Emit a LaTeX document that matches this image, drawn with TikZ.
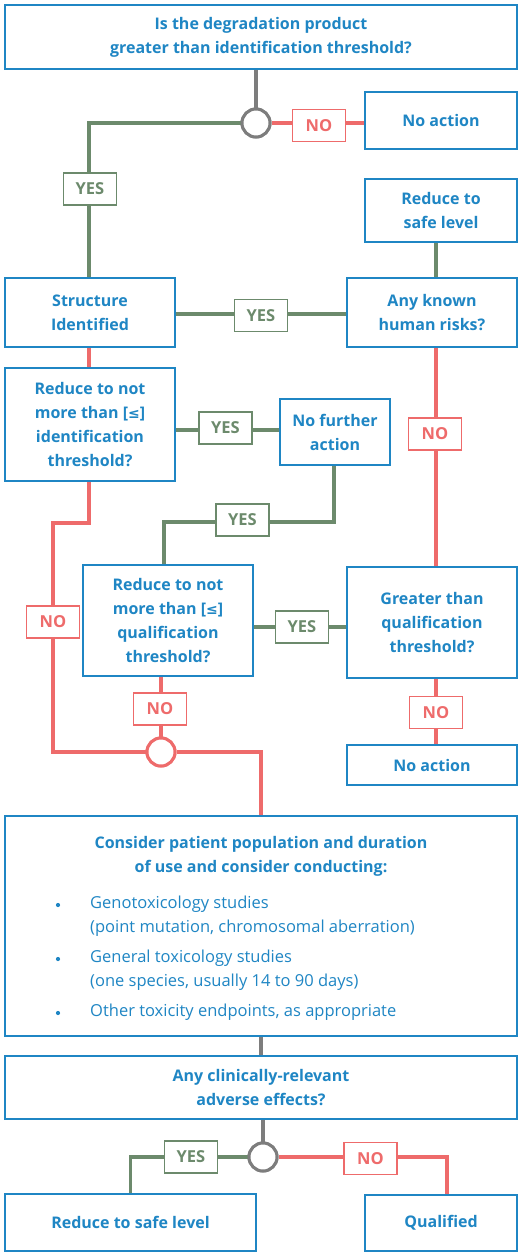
\documentclass[tikz,border=0pt]{standalone}
\usepackage{fontspec}
\setmainfont{Open Sans}
\newfontfamily\symf{DejaVu Sans}
\definecolor{cblue}{HTML}{1F86C4}
\definecolor{cgreen}{HTML}{6C8A6C}
\definecolor{cred}{HTML}{EE6B6B}
\definecolor{cgray}{HTML}{7D7D7D}
\newcommand{\leqs}{{\symf\fontsize{14}{14}\selectfont ≤}}
\begin{document}
\begin{tikzpicture}[x=1pt,y=-1pt,
  box/.style={draw=cblue, line width=2.6pt, text=cblue, align=center, inner sep=0pt,
    font=\fontsize{16}{24}\selectfont\bfseries, fill=white},
  lab/.style={draw, line width=1.4pt, fill=white, inner sep=0pt, minimum width=53pt, minimum height=32pt,
    font=\fontsize{16.5}{18}\selectfont\bfseries},
  ylab/.style={lab, draw=cgreen, text=cgreen},
  nlab/.style={lab, draw=cred, text=cred},
  junc/.style={circle, line width=3pt, fill=white, minimum size=28pt, inner sep=0pt},
  gline/.style={draw=cgreen, line width=3.2pt},
  rline/.style={draw=cred, line width=3.2pt},
  kline/.style={draw=cgray, line width=3.2pt},
  bodyt/.style={text=cblue, font=\fontsize{16.5}{24}\selectfont, align=left, inner sep=0pt},
]
\useasboundingbox (0,0) rectangle (526,1254);
\fill[white] (0,0) rectangle (526,1254);

% coordinates for connector lanes
\coordinate (xr) at (436,0);
\coordinate (xq) at (447,0);
\coordinate (xs) at (89,0);
\coordinate (xg) at (164,0);
\coordinate (xn) at (334,0);
\coordinate (yg) at (0,522);
\coordinate (yr) at (0,523);
\coordinate (xl) at (53,0);
\coordinate (y1) at (0,430);
\coordinate (y2) at (0,627);
\coordinate (y3) at (0,314);

% boxes
\node[box, minimum width=512pt, minimum height=64pt] (top) at (261,37) {Is the degradation product\\greater than identification threshold?};
\node[box, minimum width=152pt, minimum height=57pt] (noact1) at (441,120.5) {No action};
\node[box, minimum width=152pt, minimum height=63pt] (safe1) at (441,210.5) {Reduce to\\safe level};
\node[box, minimum width=170pt, minimum height=69pt] (struct) at (90,312.5) {Structure\\Identified};
\node[box, minimum width=170pt, minimum height=69pt] (known) at (432,312.5) {Any known\\human risks?};
\node[box, minimum width=170pt, minimum height=113pt] (redid) at (90,424.5) {Reduce to not\\more than [\leqs]\\identification\\threshold?};
\node[box, minimum width=110pt, minimum height=66pt] (nofur) at (335,432) {No further\\action};
\node[box, minimum width=170pt, minimum height=111pt] (redq) at (168,620.5) {Reduce to not\\more than [\leqs]\\qualification\\threshold?};
\node[box, minimum width=170pt, minimum height=111pt] (greater) at (432,622.5) {Greater than\\qualification\\threshold?};
\node[box, minimum width=170pt, minimum height=40pt] (noact2) at (432,765) {No action};
\node[box, minimum width=512pt, minimum height=220pt] (consider) at (261,926) {};
\node[box, minimum width=512pt, minimum height=63pt] (clin) at (261,1087.5) {Any clinically-relevant\\adverse effects?};
\node[box, minimum width=251pt, minimum height=57pt] (safe2) at (130.5,1222.5) {Reduce to safe level};
\node[box, minimum width=152pt, minimum height=56pt] (qual) at (441,1223) {Qualified};

% consider contents
\node[text=cblue, font=\fontsize{16}{24}\selectfont\bfseries, align=center, inner sep=0pt] (chead) at (261,856) {Consider patient population and duration\\of use and consider conducting:};
\node[bodyt, anchor=west] (b1) at (90,916) {Genotoxicology studies\\(point mutation, chromosomal aberration)};
\node[bodyt, anchor=west] (b2) at (90,970) {General toxicology studies\\(one species, usually 14 to 90 days)};
\node[bodyt, anchor=west] (b3) at (90,1012) {Other toxicity endpoints, as appropriate};
\foreach \yy/\nm in {905/d1,959/d2,1013/d3}
  \node[circle, fill=cblue, inner sep=0pt, minimum size=4.2pt] (\nm) at (58,\yy) {};

% junctions
\node[junc, draw=cgray] (c1) at (256,123) {};
\node[junc, draw=cred] (c2) at (161,752) {};
\node[junc, draw=cgray] (c3) at (263,1157) {};

% connectors
\draw[kline] (c1 |- top.south) -- (c1.north);
\draw[gline] (c1.west) -| (struct.north -| xs);
\draw[rline] (c1.east) -- (c1.east -| noact1.west);
\draw[gline] (safe1.south -| xr) -- (known.north -| xr);
\draw[gline] (struct.east |- y3) -- (known.west |- y3);
\draw[rline] (struct.south -| xs) -- (redid.north -| xs);
\draw[rline] (known.south -| xr) -- (greater.north -| xr);
\draw[gline] (redid.east |- y1) -- (nofur.west |- y1);
\draw[gline] (nofur.south -| xn) |- (xg |- yg) -- (redq.north -| xg);
\draw[rline] (redid.south -| xs) |- (xl |- yr) |- (c2.west);
\draw[rline] (redq.south -| c2) -- (c2.north);
\draw[rline] (c2.east) -| (consider.north);
\draw[gline] (redq.east |- y2) -- (greater.west |- y2);
\draw[rline] (greater.south -| xr) -- (noact2.north -| xr);
\draw[kline] (consider.south) -- (clin.north);
\draw[kline] (clin.south -| c3) -- (c3.north);
\draw[gline] (c3.west) -| (safe2.north);
\draw[rline] (c3.east) -| (qual.north -| xq);

% redraw junctions on top
\node[junc, draw=cgray] at (c1) {};
\node[junc, draw=cred] at (c2) {};
\node[junc, draw=cgray] at (c3) {};

% labels
\node[nlab] (n1) at (319,125.5) {NO};
\node[ylab] (y1l) at (90,189) {YES};
\node[ylab] (y2l) at (261,315.5) {YES};
\node[ylab] (y3l) at (225.5,428) {YES};
\node[ylab] (y4l) at (242.5,520) {YES};
\node[nlab] (nR) at (435,434) {NO};
\node[nlab] (nL) at (53,622) {NO};
\node[ylab] (y5l) at (302,627) {YES};
\node[nlab] (nq) at (160,709) {NO};
\node[nlab] (ng) at (436,712.5) {NO};
\node[ylab] (y6l) at (191,1157) {YES};
\node[nlab] (n6) at (370.5,1158.5) {NO};
\end{tikzpicture}
\end{document}
